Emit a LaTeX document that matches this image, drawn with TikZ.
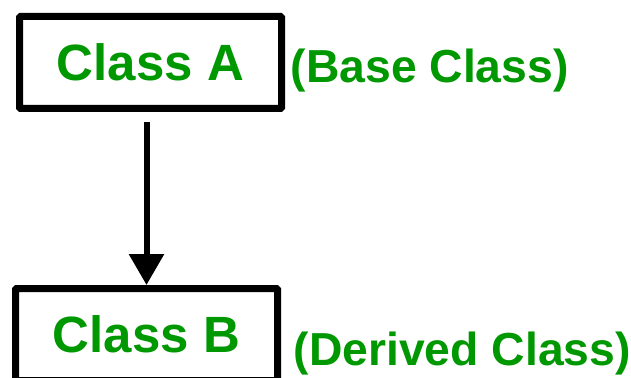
\documentclass[tikz,border=0pt]{standalone}
\usepackage{fontspec}
\setmainfont{Liberation Sans}
\usetikzlibrary{arrows.meta}
\definecolor{cgreen}{RGB}{0,152,0}
\tikzset{
  classbox/.style={draw=black, line width=7pt, rounded corners=1pt, minimum width=262pt, minimum height=92pt, inner sep=0pt,
    text=cgreen, font=\fontsize{51}{51}\selectfont\bfseries},
  note/.style={anchor=base west, inner sep=0pt, text=cgreen, font=\fontsize{46.3}{46.3}\selectfont\bfseries},
  arr/.style={line width=6pt, -{Triangle[width=34pt,length=31pt]}}
}
\begin{document}
\begin{tikzpicture}[x=1pt,y=-1pt]
\clip (0,0) rectangle (631,377);
\fill[white] (0,0) rectangle (631,377);
\node[classbox] (a) at (150.5,62.5) {Class A};
\node[classbox] (b) at (146.5,334.5) {Class B};
\node[note] (na) at (290.5,82.5) {(Base Class)};
\node[note] (nb) at (293.5,365.5) {(Derived Class)};
\draw[arr] ([yshift=-10pt]a.south -| b.north) -- (b.north);
\end{tikzpicture}
\end{document}
